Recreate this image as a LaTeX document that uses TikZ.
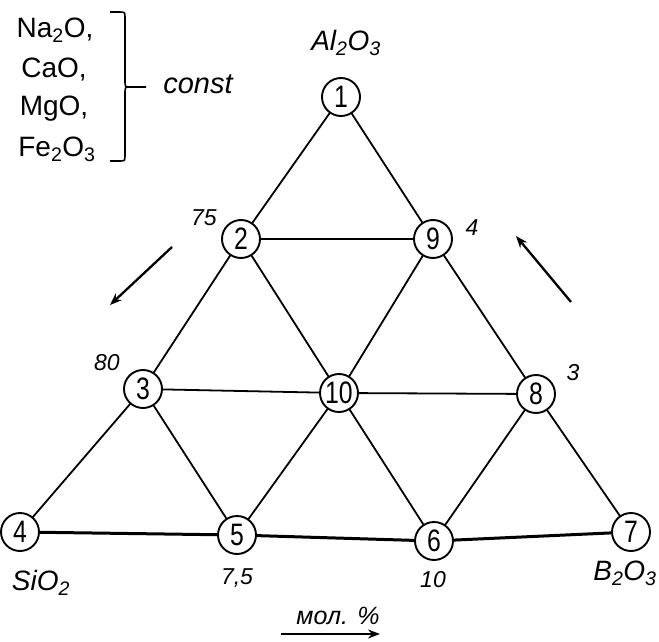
\documentclass[tikz,border=0pt]{standalone}
\usepackage{fontspec}
\setmainfont{Liberation Sans}
\newfontfamily\narrowdig[FakeStretch=0.8]{Liberation Sans}
\usetikzlibrary{arrows.meta}
\begin{document}
\begin{tikzpicture}[x=1pt,y=-1pt,
  pt/.style={circle,draw,line width=1.9pt,minimum size=38pt,inner sep=0pt,font=\narrowdig\fontsize{31}{31}\selectfont,fill=white},
  edge/.style={line width=1.8pt},
  base/.style={line width=3pt},
  lab/.style={font=\fontsize{23}{23}\selectfont\itshape},
  comp/.style={font=\fontsize{28}{28}\selectfont\itshape},
  ox/.style={font=\fontsize{28}{28}\selectfont},
  arr/.style={line width=2.3pt,-{Stealth[length=12pt,width=9pt]}}]
\useasboundingbox (0,0) rectangle (659,642);
\coordinate (p1) at (341,97);
\coordinate (p2) at (241,239);
\coordinate (p9) at (433,239);
\coordinate (p3) at (143,389);
\coordinate (p10) at (339,393);
\coordinate (p8) at (536,394);
\coordinate (p4) at (20,532);
\coordinate (p5) at (237,535);
\coordinate (p6) at (434,541);
\coordinate (p7) at (631,532);
% edges
\draw[edge] (p1)--(p2) (p1)--(p9) (p2)--(p9) (p2)--(p3) (p2)--(p10) (p9)--(p10) (p9)--(p8)
  (p3)--(p10) (p10)--(p8) (p3)--(p4) (p3)--(p5) (p10)--(p5) (p10)--(p6) (p8)--(p6) (p8)--(p7);
\draw[base] (p4)--(p5)--(p6)--(p7);
% nodes
\node[pt] (n1) at (p1) {1};
\node[pt] (n2) at (p2) {2};
\node[pt] (n9) at (p9) {9};
\node[pt] (n3) at (p3) {3};
\node[pt] (n10) at (p10) {10};
\node[pt] (n8) at (p8) {8};
\node[pt] (n4) at (p4) {4};
\node[pt] (n5) at (p5) {5};
\node[pt] (n6) at (p6) {6};
\node[pt] (n7) at (p7) {7};
% labels
\node[comp] (al) at (346,43) {Al\textsubscript{2}O\textsubscript{3}};
\node[comp] (si) at (41,583) {SiO\textsubscript{2}};
\node[comp] (bo) at (625,573) {B\textsubscript{2}O\textsubscript{3}};
\node[lab] (l75) at (204,218) {75};
\node[lab] (l4) at (472,228) {4};
\node[lab] (l80) at (107,363) {80};
\node[lab] (l3) at (573,373) {3};
\node[lab] (l75b) at (237,578) {7,5};
\node[lab] (l10) at (433,580) {10};
\node[font=\fontsize{25}{25}\selectfont\itshape] (mol) at (338,616) {мол. \%};
% arrows
\coordinate (a1s) at (172,247); \coordinate (a1e) at (110,305);
\coordinate (a2s) at (571,302); \coordinate (a2e) at (516,236);
\coordinate (a3s) at (281,634); \coordinate (a3e) at (380,634);
\draw[arr] (a1s)--(a1e);
\draw[arr] (a2s)--(a2e);
\draw[arr] (a3s)--(a3e);
% oxides and bracket
\node[ox] (ox1) at (55,30) {Na\textsubscript{2}O,};
\node[ox] (ox2) at (54,70) {CaO,};
\node[ox] (ox3) at (54,109) {MgO,};
\node[ox] (ox4) at (57,149) {Fe\textsubscript{2}O\textsubscript{3}};
\coordinate (bt) at (110,12); \coordinate (bb) at (110,161); \coordinate (bm) at (146,87);
\draw[line width=1.6pt] (bt) -- (119,12) .. controls (125,12) .. (125,18) -- (125,81) .. controls (125,87) .. (131,87) -- (bm);
\draw[line width=1.6pt] (bb) -- (119,161) .. controls (125,161) .. (125,155) -- (125,93) .. controls (125,87) .. (131,87);
\node[font=\fontsize{29}{29}\selectfont\itshape] (const) at (198,84) {const};
\end{tikzpicture}
\end{document}
